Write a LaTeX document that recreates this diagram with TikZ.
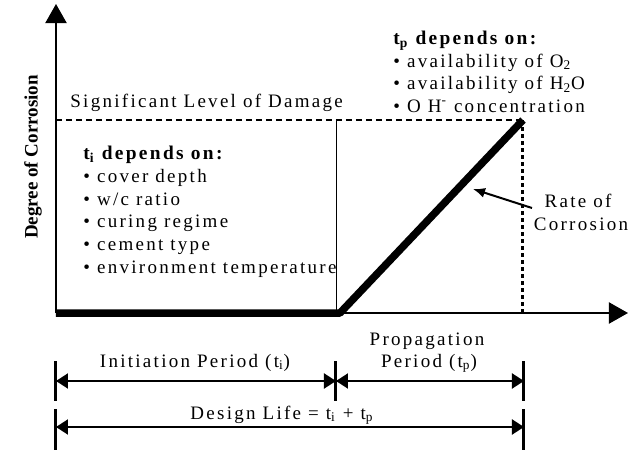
\documentclass[tikz,border=0pt]{standalone}
\usepackage{fontspec}
\setmainfont{Liberation Serif}
\newfontfamily\widefont{Liberation Serif}[LetterSpace=12]
\usetikzlibrary{arrows.meta}

\begin{document}
\begin{tikzpicture}[
                    x=0.5pt, y=-0.5pt,
                    font=\widefont\fontsize{9.5}{11}\selectfont,
                    txt/.style={inner sep=0pt, anchor=base west},
                    mid/.style={inner sep=0pt, anchor=base},
                    head/.style={txt, font=\widefont\bfseries\fontsize{9.7}{12}\selectfont},
                    axis/.style={line width=1pt, -{Triangle[length=9.5pt,width=10.5pt]}},
                    curve/.style={line width=3.75pt, line join=round},
                    dim/.style={line width=1pt, {Triangle[length=6pt,width=7.5pt]}-{Triangle[length=6pt,width=7.5pt]}},
                    bar/.style={line width=1.5pt}
                ]
                \useasboundingbox (0,0) rectangle (629,450);

                \coordinate (O)    at (56,313);
                \coordinate (ymax) at (56,4);
                \coordinate (xmax) at (628,313);
                \coordinate (ti)   at (340,313);
                \coordinate (top)  at (523,120);
                \coordinate (dam)  at (56,120);
                \coordinate (tiup) at (337,120);
                \coordinate (tidn) at (337,313);
                \coordinate (tpdn) at (523,313);

                \draw[axis] (O) -- (ymax);
                \draw[axis] (O) -- (xmax);
                \draw[line width=1pt, dash pattern=on 3pt off 2pt] (dam) -- (top);
                \draw[line width=1.5pt, dash pattern=on 2pt off 1.5pt] (top) -- (tpdn);
                \draw[line width=0.5pt] (tiup) -- (tidn);
                \draw[curve] (O) -- (ti) -- (top);

                \node[rotate=90, font=\rmfamily\bfseries\fontsize{9.5}{11}\selectfont] (ylab) at (33,157) {Degree of Corrosion};
                \node[txt] (sig) at (70,107) {Significant Level of Damage};

                \node[head] (tihead) at (83,159) {t\textsubscript{i} depends on:};
                \foreach \item [count=\i] in {cover depth, w/c ratio, curing regime, cement type, environment temperature}
                    \node[txt] (ti\i) at (83,{160+22.6*\i}) {\textbullet\ \item};

                \node[head] (tphead) at (393,44) {t\textsubscript{p} depends on:};
                \node[txt] (tp1) at (393,67)  {\textbullet\ availability of O\textsubscript{2}};
                \node[txt] (tp2) at (393,89.5) {\textbullet\ availability of H\textsubscript{2}O};
                \node[txt] (tp3) at (393,112) {\textbullet\ O H\textsuperscript{-} concentration};

                \node[mid] (rate) at (578,207) {Rate of};
                \node[mid] (corr) at (581,230) {Corrosion};
                \coordinate (ratefrom) at (532,208);
                \coordinate (ratetip)  at (473,189);
                \draw[line width=1pt, -{Latex[length=6pt,width=5pt]}] (ratefrom) -- (ratetip);

                % time periods below the axis
                \coordinate (a0) at (56,381);
                \coordinate (a1) at (336,381);
                \coordinate (a2) at (524,381);
                \coordinate (b0) at (56,427);
                \coordinate (b2) at (524,427);
                \draw[bar] (56,361) -- (56,401);
                \draw[bar] (336,361) -- (336,401);
                \draw[bar] (524,361) -- (524,401);
                \draw[bar] (56,409) -- (56,450);
                \draw[bar] (524,409) -- (524,450);
                \draw[dim] (a0) -- (a1);
                \draw[dim] (a1) -- (a2);
                \draw[dim] (b0) -- (b2);

                \node[mid] (init) at (195,367) {Initiation Period (t\textsubscript{i})};
                \node[mid] (prop) at (427,345) {Propagation};
                \node[mid] (pper) at (429,367) {Period (t\textsubscript{p})};
                \node[mid] (life) at (282,419) {Design Life = t\textsubscript{i} + t\textsubscript{p}};

            \end{tikzpicture}
\end{document}
